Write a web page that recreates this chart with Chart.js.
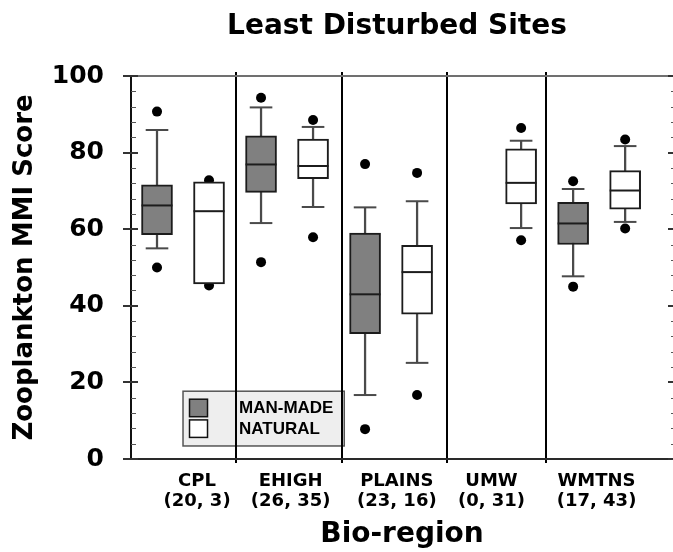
<!DOCTYPE html>
<html>
<head>
<meta charset="utf-8">
<title>Least Disturbed Sites</title>
<script src="https://cdn.jsdelivr.net/npm/chart.js@4.4.0/dist/chart.umd.min.js"></script>
<style>
html,body{margin:0;padding:0;background:#fff;overflow:hidden;}
canvas{display:block;}
</style>
</head>
<body>
<canvas id="mmiChart" width="673" height="552"></canvas>
<script>
const regions=["CPL","EHIGH","PLAINS","UMW","WMTNS"];
const siteCounts=["(20, 3)","(26, 35)","(23, 16)","(0, 31)","(17, 43)"];
const regionLabelAt=[1.27,3.07,5.11,6.93,8.95];
const dividerAt=[2.02,4.06,6.07,7.97];

// man-made lakes (gray boxes)
const manQ1=[58.6,69.6,32.7,null,56.0];
const manMed=[66.2,76.9,43.0,null,61.5];
const manQ3=[71.6,84.4,59.0,null,67.0];
const manLow=[55.0,61.6,16.7,null,47.7];
const manHigh=[85.9,91.8,65.7,null,70.5];
const manOut=[[50.0,90.7],[51.4,94.3],[7.8,77.0],[],[45.0,72.5]];

// natural lakes (white boxes)
const natQ1=[45.7,73.2,37.8,66.6,65.2];
const natMed=[64.7,76.5,48.8,72.1,70.1];
const natQ3=[72.4,83.5,55.8,81.0,75.3];
const natLow=[null,65.8,25.1,60.3,61.9];
const natHigh=[null,86.7,67.3,83.1,81.7];
const natOut=[[45.3,72.8],[57.9,88.5],[16.7,74.7],[57.1,86.4],[60.2,83.4]];

const AXIS_FONT='"DejaVu Sans", sans-serif';
const GRAY='#808080', EDGE='#1c1c1c', WHISKER='#4a4a4a';

function boxes(q1,q3,off){
    const out=[];
    q1.forEach((v,i)=>{ if(v!=null) out.push({x:2*i+off,y:[v,q3[i]]}); });
    return out;
}
function stems(lo,hi,off){
    const out=[];
    lo.forEach((v,i)=>{ if(v!=null) out.push({x:2*i+off,y:[v,hi[i]]}); });
    return out;
}
function caps(lo,hi,off){
    const out=[];
    lo.forEach((v,i)=>{ if(v!=null){ out.push({x:2*i+off,y:v}); out.push({x:2*i+off,y:hi[i]}); } });
    return out;
}
function medians(med,off){
    const out=[];
    med.forEach((v,i)=>{ if(v!=null) out.push({x:2*i+off,y:v}); });
    return out;
}
function outliers(list,off){
    const out=[];
    list.forEach((pts,i)=>pts.forEach(v=>out.push({x:2*i+off,y:v})));
    return out;
}

function line(ctx,x1,y1,x2,y2){ ctx.beginPath(); ctx.moveTo(x1,y1); ctx.lineTo(x2,y2); ctx.stroke(); }

const decorPlugin={
    id:'decor',
    afterDatasetsDraw(chart){
        const {ctx,chartArea:a,scales:{x,y}}=chart;
        ctx.save();
        // legend box inside the plot
        const lx=x.getPixelForValue(1.0), rx=x.getPixelForValue(4.1);
        const ty=y.getPixelForValue(17.7), by=y.getPixelForValue(3.4);
        ctx.fillStyle='#eeeeee'; ctx.fillRect(lx,ty,rx-lx,by-ty);
        ctx.strokeStyle='#555'; ctx.lineWidth=1.5; ctx.strokeRect(lx,ty,rx-lx,by-ty);
        ctx.font='bold 17px "Liberation Sans", Arial, sans-serif';
        ctx.textAlign='left'; ctx.textBaseline='middle';
        [[GRAY,'MAN-MADE',8],['#fff','NATURAL',28.7]].forEach(([fill,text,dy])=>{
            ctx.fillStyle=fill; ctx.fillRect(lx+6.5,ty+dy,18,17.5);
            ctx.strokeStyle='#111'; ctx.lineWidth=1.5; ctx.strokeRect(lx+6.5,ty+dy,18,17.5);
            ctx.fillStyle='#000'; ctx.fillText(text,lx+56,ty+dy+9.5);
        });
        // region dividers
        ctx.strokeStyle='#000'; ctx.lineWidth=2;
        dividerAt.forEach(v=>{ const px=Math.round(x.getPixelForValue(v)); line(ctx,px,a.top-4,px,a.bottom+4); });
        // frame
        ctx.strokeStyle='#707070'; line(ctx,a.left-8,a.top,a.right,a.top);
        ctx.strokeStyle='#2a2a2a'; line(ctx,a.left-8,a.bottom,a.right,a.bottom);
        ctx.strokeStyle='#111'; line(ctx,a.left,a.top,a.left,a.bottom);
        for(let v=0;v<=100;v+=4){
            const py=Math.round(y.getPixelForValue(v));
            if(v%20===0){
                ctx.lineWidth=2; ctx.strokeStyle='#333';
                line(ctx,a.left-8,py,a.left+7,py);
                line(ctx,a.right-5,py,a.right,py);
            }else{
                ctx.lineWidth=1; ctx.strokeStyle='#555';
                line(ctx,a.left,py+0.5,a.left+5,py+0.5);
                line(ctx,a.right-2,py+0.5,a.right,py+0.5);
            }
        }
        // chart title
        ctx.fillStyle='#000'; ctx.font='bold 28px '+AXIS_FONT;
        ctx.textAlign='center'; ctx.textBaseline='alphabetic';
        ctx.fillText('Least Disturbed Sites',(a.left+a.right)/2-5,33.5);
        ctx.restore();
    }
};

const ctx=document.getElementById("mmiChart").getContext("2d");
new Chart(ctx,{
    type:'bar',
    data:{datasets:[
        {type:'scatter',label:'median',data:medians(manMed,0.5).concat(medians(natMed,1.5)),
            pointStyle:'line',pointRadius:15.5,pointHoverRadius:15.5,pointBorderColor:EDGE,pointBorderWidth:2},
        {label:'MAN-MADE',data:boxes(manQ1,manQ3,0.5),backgroundColor:GRAY,borderColor:EDGE,borderWidth:2,borderSkipped:false,barThickness:31,grouped:false},
        {label:'NATURAL',data:boxes(natQ1,natQ3,1.5),backgroundColor:'#ffffff',borderColor:EDGE,borderWidth:2,borderSkipped:false,barThickness:31,grouped:false},
        {type:'scatter',label:'caps',data:caps(manLow,manHigh,0.5).concat(caps(natLow,natHigh,1.5)),
            pointStyle:'line',pointRadius:11.3,pointHoverRadius:11.3,pointBorderColor:WHISKER,pointBorderWidth:2},
        {label:'whiskers',data:stems(manLow,manHigh,0.5).concat(stems(natLow,natHigh,1.5)),backgroundColor:WHISKER,borderWidth:0,barThickness:1.6,grouped:false},
        {type:'scatter',label:'outliers',data:outliers(manOut,0.5).concat(outliers(natOut,1.5)),
            pointStyle:'circle',pointRadius:5,pointHoverRadius:5,pointBackgroundColor:'#000',pointBorderWidth:0}
    ]},
    options:{
        responsive:false,
        animation:false,
        layout:{autoPadding:false,padding:{top:76,left:0,right:0,bottom:0}},
        plugins:{legend:{display:false},tooltip:{enabled:false},title:{display:false}},
        scales:{
            x:{
                type:'linear',min:0,max:10.42,offset:false,
                grid:{display:false,drawTicks:false},
                border:{display:false},
                afterBuildTicks:s=>{ s.ticks=regionLabelAt.map(v=>({value:v})); },
                afterFit:s=>{ s.height=93; s.paddingLeft=0; s.paddingRight=0; },
                ticks:{autoSkip:false,maxRotation:0,padding:12,color:'#000',
                    font:{family:AXIS_FONT,size:18,weight:'bold',lineHeight:1.11},
                    callback:(v,i)=>[regions[i],siteCounts[i]]},
                title:{display:true,text:'Bio-region',color:'#000',padding:{top:0,bottom:0},
                    font:{family:AXIS_FONT,size:28,weight:'bold'}}
            },
            y:{
                min:0,max:100,
                grid:{display:false,drawTicks:false},
                border:{display:false},
                afterFit:s=>{ s.width=131; },
                ticks:{stepSize:20,padding:27,color:'#000',font:{family:AXIS_FONT,size:25,weight:'bold'}},
                title:{display:true,text:'Zooplankton MMI Score',color:'#000',padding:{top:9.4,bottom:0},
                    font:{family:AXIS_FONT,size:26,weight:'bold'}}
            }
        }
    },
    plugins:[decorPlugin]
});
</script>
</body>
</html>
